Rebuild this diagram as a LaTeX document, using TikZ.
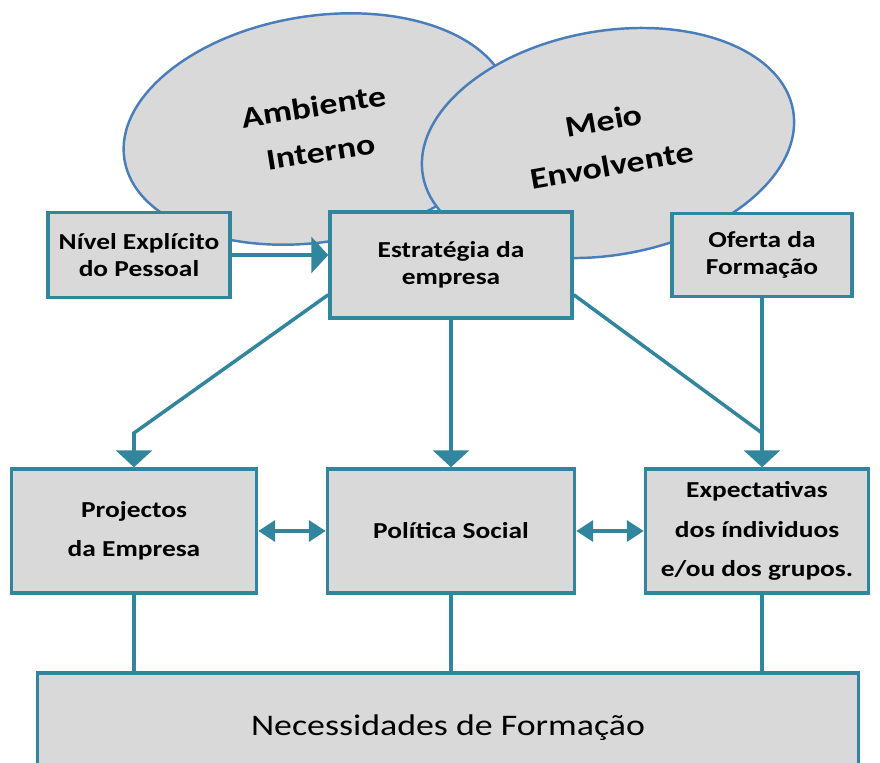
\documentclass[tikz,border=0pt]{standalone}
\usepackage{fontspec}
\setmainfont{Carlito}[FakeStretch=1.2]
\usetikzlibrary{arrows.meta,shapes.geometric}

\definecolor{caixaborda}{HTML}{31859C}
\definecolor{caixafundo}{HTML}{D9D9D9}
\definecolor{ovalborda}{HTML}{4A7EBB}

\tikzset{
  oval/.style={ellipse, draw=ovalborda, line width=1.4pt, fill=caixafundo,
    align=center, inner sep=0pt, font=\fontsize{17}{26}\selectfont\bfseries},
  caixa/.style={rectangle, draw=caixaborda, line width=2pt, fill=caixafundo,
    align=center, inner sep=0pt, font=\fontsize{13}{15.5}\selectfont\bfseries},
  caixabaixo/.style={caixa, minimum height=2.48cm,
    font=\fontsize{13}{22.5}\selectfont\bfseries},
  liga/.style={draw=caixaborda, line width=2pt},
  seta/.style={liga, -{Triangle[width=0.72cm,length=0.34cm]}},
  dupla/.style={liga, {Triangle[width=0.42cm,length=0.34cm]}-{Triangle[width=0.42cm,length=0.34cm]}},
}

\begin{document}
\begin{tikzpicture}[x=0.02cm, y=-0.02cm]
  \useasboundingbox (0,0) rectangle (880,762);
  \clip (0,0) rectangle (880,762);

  % OVALS
  \node[oval, minimum width=7.8cm, minimum height=4.52cm, rotate=9]
    (amb) at (317,129) {Ambiente\\Interno};
  \node[oval, minimum width=7.52cm, minimum height=4.48cm, rotate=10]
    (meio) at (608,143) {Meio\\Envolvente};

  % TOP BOXES
  \node[caixa, minimum width=3.64cm, minimum height=1.70cm]
    (nivel) at (139,255) {Nível Explícito\\do Pessoal};
  \node[caixa, minimum width=4.84cm, minimum height=2.12cm]
    (estr) at (451,265) {Estratégia da\\empresa};
  \node[caixa, minimum width=3.6cm, minimum height=1.66cm]
    (oferta) at (762,255) {Oferta da\\Formação};

  % MIDDLE BOXES
  \node[caixabaixo, minimum width=4.9cm] (proj) at (134,531) {Projectos\\da Empresa};
  \node[caixabaixo, minimum width=4.94cm] (polit) at (451,531) {Política Social};
  \node[caixabaixo, minimum width=4.46cm] (expec) at (757,531)
    {Expectativas\\dos índividuos\\e/ou dos grupos.};

  % BOTTOM BOX
  \node[caixa, minimum width=16.42cm, minimum height=2.2cm,
    font=\fontsize{17}{20}\selectfont] (necess) at (448,728) {Necessidades de Formação};

  % BENDS
  \coordinate (dobraE) at (134,433);
  \coordinate (dobraD) at (762,433);

  % ARROWS
  \draw[seta] (nivel.east) -- (estr.west |- nivel.east);
  \draw[seta] ([yshift=0.5cm]estr.south west) -- (dobraE) -- (proj.north);
  \draw[seta] (estr.south) -- (polit.north);
  \draw[liga] ([yshift=0.5cm]estr.south east) -- (dobraD);
  \draw[seta] (oferta.south) -- (oferta.south |- expec.north);
  \draw[dupla] (proj.east) -- (polit.west);
  \draw[dupla] (polit.east) -- (expec.west);

  % LINES DOWN
  \draw[liga] (proj.south) -- (proj.south |- necess.north);
  \draw[liga] (polit.south) -- (polit.south |- necess.north);
  \draw[liga] (oferta.south |- expec.south) -- (oferta.south |- necess.north);
\end{tikzpicture}
\end{document}
